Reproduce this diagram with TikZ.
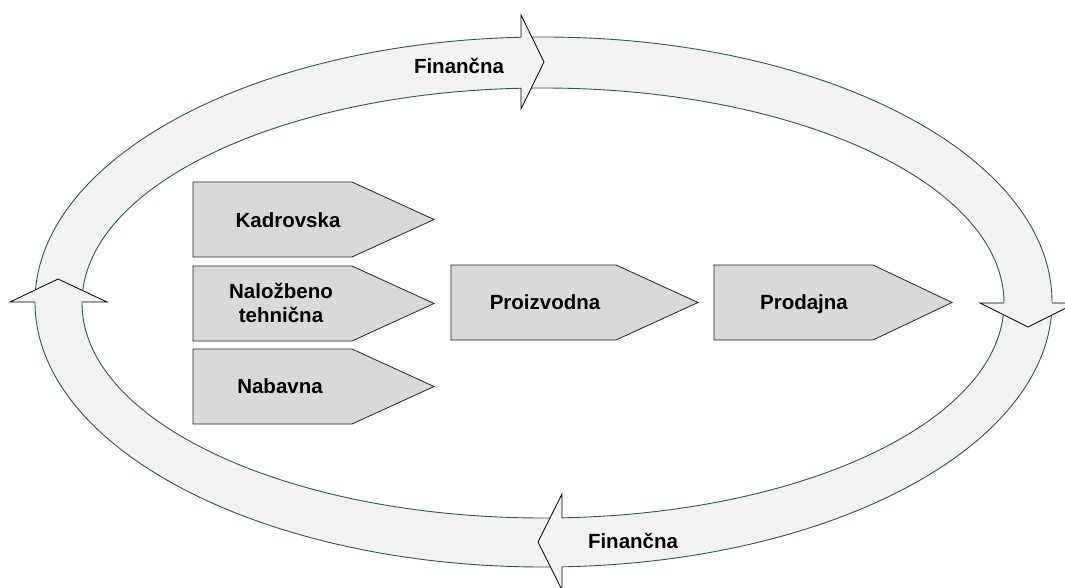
\documentclass[tikz,border=0pt]{standalone}
\usepackage{fontspec}
\setmainfont{Liberation Sans}
\definecolor{bandedge}{HTML}{2E5C3C}
\begin{document}
\begin{tikzpicture}[x=1pt,y=-1pt,
  ringfill/.style={fill=black!5},
  ringline/.style={draw=bandedge, line width=0.9pt},
  headline/.style={draw=black, line width=0.8pt, line join=miter},
  stagebox/.style={draw=black!85, line width=0.8pt, fill=black!15, line join=miter},
  label/.style={font=\fontsize{20.5}{24}\selectfont\bfseries, align=center, inner sep=0pt},
  oneline/.style={label, text depth=0pt}]
\useasboundingbox (0,0) rectangle (1065,588);
\clip (0,0) rectangle (1065,588);

% circular band
\fill[ringfill, even odd rule]
  (543.5,302) ellipse [x radius=508.5, y radius=265]
  (543,303) ellipse [x radius=461, y radius=215];
\draw[ringline] (543.5,302) ellipse [x radius=508.5, y radius=265];
\draw[ringline] (543,303) ellipse [x radius=461, y radius=215];

% arrowheads on the band
% top, pointing right
\fill[ringfill] (521,15) -- (544,62) -- (521,109) -- cycle;
\draw[headline] (521,37.3) -- (521,15) -- (544,62) -- (521,109) -- (521,88);
% right, pointing down
\fill[ringfill] (980,303) -- (1028,327) -- (1076,303) -- cycle;
\draw[headline] (1004,303) -- (980,303) -- (1028,327) -- (1076,303) -- (1052,303);
% bottom, pointing left
\fill[ringfill] (562,494) -- (538,542) -- (562,590) -- cycle;
\draw[headline] (562,518) -- (562,494) -- (538,542) -- (562,590) -- (562,567);
% left, pointing up
\fill[ringfill] (10,302) -- (58,279) -- (107,302) -- cycle;
\draw[headline] (35,302) -- (10,302) -- (58,279) -- (107,302) -- (82,302);

% stage boxes
\draw[stagebox] (193,182) -- (352,182) -- (434,219.5) -- (352,257) -- (193,257) -- cycle;
\draw[stagebox] (193,266) -- (352,266) -- (434,303.5) -- (352,341) -- (193,341) -- cycle;
\draw[stagebox] (193,349) -- (352,349) -- (434,386.5) -- (352,424) -- (193,424) -- cycle;
\draw[stagebox] (451,265) -- (616,265) -- (698,302.5) -- (616,340) -- (451,340) -- cycle;
\draw[stagebox] (714,265) -- (873,265) -- (952,302.5) -- (873,340) -- (714,340) -- cycle;

% labels
\node[oneline] (kadr) at (288,220) {Kadrovska};
\node[label] (nalo) at (281,303) {Naložbeno\\tehnična};
\node[oneline] (naba) at (280,386) {Nabavna};
\node[oneline] (proi) at (545,302) {Proizvodna};
\node[oneline] (prod) at (804,302) {Prodajna};
\node[oneline] (fintop) at (459,66) {Finančna};
\node[oneline] (finbot) at (633,541) {Finančna};
\end{tikzpicture}
\end{document}
